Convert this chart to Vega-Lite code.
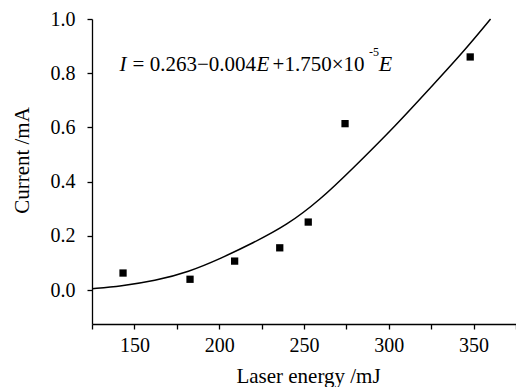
{
  "$schema": "https://vega.github.io/schema/vega-lite/v6.json",
  "width": 424,
  "height": 305,
  "autosize": {"type": "none"},
  "padding": {"left": 92, "top": 19, "right": 0, "bottom": 63},
  "background": "white",
  "config": {
    "view": {"stroke": null},
    "font": "Liberation Serif",
    "axis": {
      "grid": false,
      "domainColor": "black",
      "domainWidth": 1.3,
      "tickColor": "black",
      "tickWidth": 1.3,
      "tickSize": 5,
      "labelFont": "Liberation Serif",
      "labelFontSize": 20,
      "labelColor": "black",
      "titleFont": "Liberation Serif",
      "titleFontSize": 21,
      "titleFontWeight": "normal",
      "titleColor": "black"
    }
  },
  "datasets": {
    "curve": [
      {"energy": 125, "current": 0.005},
      {"energy": 142, "current": 0.015},
      {"energy": 162, "current": 0.034},
      {"energy": 182, "current": 0.067},
      {"energy": 201, "current": 0.117},
      {"energy": 220, "current": 0.174},
      {"energy": 240, "current": 0.24},
      {"energy": 259, "current": 0.33},
      {"energy": 279, "current": 0.45},
      {"energy": 305, "current": 0.613},
      {"energy": 324, "current": 0.743},
      {"energy": 344, "current": 0.879},
      {"energy": 360, "current": 1.0}
    ],
    "points": [
      {"energy": 143.3, "current": 0.063},
      {"energy": 182.8, "current": 0.04},
      {"energy": 209.1, "current": 0.107},
      {"energy": 235.7, "current": 0.156},
      {"energy": 252.5, "current": 0.251},
      {"energy": 274.2, "current": 0.614},
      {"energy": 348.0, "current": 0.86}
    ],
    "one": [{}]
  },
  "layer": [
    {
      "data": {"name": "curve"},
      "mark": {"type": "line", "color": "black", "strokeWidth": 1.5, "interpolate": "basis"},
      "encoding": {
        "x": {
          "field": "energy", "type": "quantitative",
          "scale": {"domain": [125, 375], "nice": false, "zero": false},
          "axis": {
            "title": "Laser energy /mJ",
            "values": [125, 150, 175, 200, 225, 250, 275, 300, 325, 350, 375],
            "labelExpr": "datum.value % 50 == 0 ? datum.label : ''",
            "labelPadding": 6,
            "labelFlush": false,
            "labelOverlap": false,
            "titleBaseline": "alphabetic",
            "titleY": 58,
            "titleX": 216
          }
        },
        "y": {
          "field": "current", "type": "quantitative",
          "scale": {"domain": [-0.125, 1.0], "nice": false, "zero": false},
          "axis": {
            "title": "Current /mA",
            "values": [0, 0.1, 0.2, 0.3, 0.4, 0.5, 0.6, 0.7, 0.8, 0.9, 1.0],
            "labelExpr": "round(datum.value * 10) % 2 == 0 ? format(datum.value, '.1f') : ''",
            "labelPadding": 12,
            "labelFlush": false,
            "labelOverlap": false,
            "titleBaseline": "alphabetic",
            "titleAngle": -90,
            "titleX": -64,
            "titleY": 141
          }
        }
      }
    },
    {
      "data": {"name": "points"},
      "mark": {"type": "point", "shape": "square", "filled": true, "color": "black", "opacity": 1, "size": 53},
      "encoding": {
        "x": {"field": "energy", "type": "quantitative"},
        "y": {"field": "current", "type": "quantitative"}
      }
    },
    {
      "data": {"name": "one"},
      "mark": {"type": "text", "text": "I", "font": "Liberation Serif", "fontStyle": "italic", "fontSize": 21, "align": "left", "baseline": "alphabetic", "color": "black"},
      "encoding": {"x": {"datum": 141.2, "type": "quantitative"}, "y": {"datum": 0.81, "type": "quantitative"}}
    },
    {
      "data": {"name": "one"},
      "mark": {"type": "text", "text": "= 0.263\u22120.004", "font": "Liberation Serif", "fontSize": 21, "align": "left", "baseline": "alphabetic", "color": "black"},
      "encoding": {"x": {"datum": 148.9, "type": "quantitative"}, "y": {"datum": 0.81, "type": "quantitative"}}
    },
    {
      "data": {"name": "one"},
      "mark": {"type": "text", "text": "E", "font": "Liberation Serif", "fontStyle": "italic", "fontSize": 21, "align": "left", "baseline": "alphabetic", "color": "black"},
      "encoding": {"x": {"datum": 222.0, "type": "quantitative"}, "y": {"datum": 0.81, "type": "quantitative"}}
    },
    {
      "data": {"name": "one"},
      "mark": {"type": "text", "text": "+1.750\u00d710", "font": "Liberation Serif", "fontSize": 21, "align": "left", "baseline": "alphabetic", "color": "black"},
      "encoding": {"x": {"datum": 231.5, "type": "quantitative"}, "y": {"datum": 0.81, "type": "quantitative"}}
    },
    {
      "data": {"name": "one"},
      "mark": {"type": "text", "text": "-5", "font": "Liberation Serif", "fontSize": 12, "align": "left", "baseline": "alphabetic", "color": "black"},
      "encoding": {"x": {"datum": 288.3, "type": "quantitative"}, "y": {"datum": 0.862, "type": "quantitative"}}
    },
    {
      "data": {"name": "one"},
      "mark": {"type": "text", "text": "E", "font": "Liberation Serif", "fontStyle": "italic", "fontSize": 22, "align": "left", "baseline": "alphabetic", "color": "black"},
      "encoding": {"x": {"datum": 294.1, "type": "quantitative"}, "y": {"datum": 0.81, "type": "quantitative"}}
    }
  ]
}
